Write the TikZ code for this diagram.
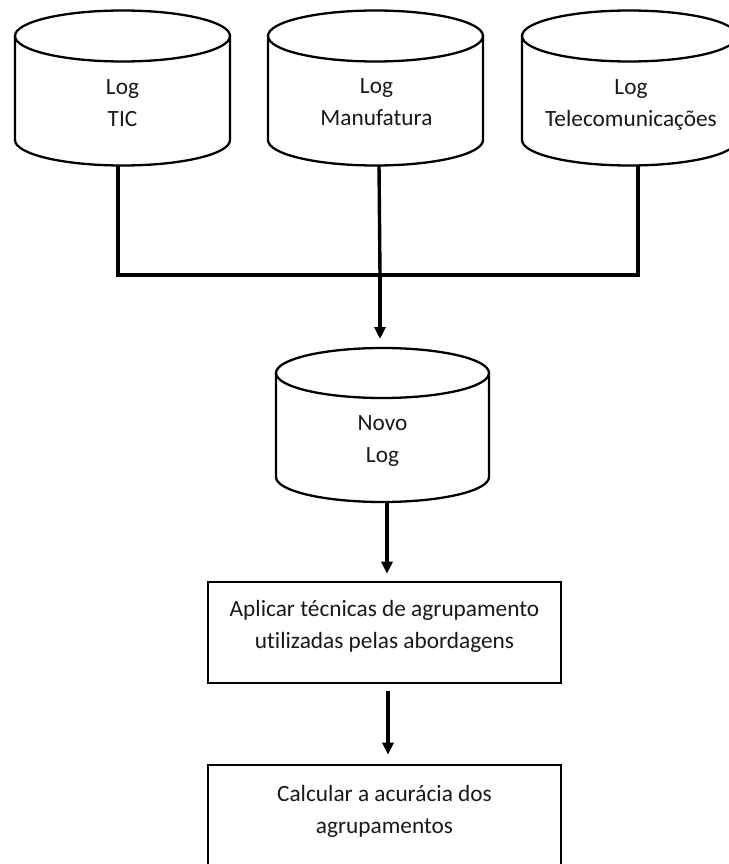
\documentclass[tikz,border=0pt]{standalone}
\usepackage{fontspec}
\setmainfont{Carlito}[Ligatures={NoCommon}]
\usetikzlibrary{arrows.meta}

% Database cylinder: centre x, top ellipse centre y, bottom ellipse centre y, half width, y radius
\newcommand{\drawdb}[5]{%
  \draw[dbline] (#1,#2) ellipse [x radius=#4, y radius=#5];
  \draw[dbline] (#1-#4,#2) -- (#1-#4,#3)
    arc[start angle=180, end angle=360, x radius=#4, y radius=#5] -- (#1+#4,#2);
}

\begin{document}
\begin{tikzpicture}[x=1pt, y=1pt,
  dbline/.style={line width=2.3pt, black},
  frame/.style={draw=none, inner sep=0pt, outer sep=0pt},
  txt/.style={align=center, inner sep=0pt, font=\fontsize{23.3}{32}\selectfont, text=black!90},
  stepbox/.style={draw, line width=2.6pt, inner sep=0pt, minimum width=353pt, minimum height=101pt},
  conn/.style={line width=3.4pt, black},
  arr/.style={conn, -{Triangle[width=11pt,length=12pt]}}]

  \useasboundingbox[fill=white] (0,0) rectangle (728,-864);

  % source logs
  \drawdb{122.5}{-36}{-140}{107.5}{25.5}
  \drawdb{375.5}{-36}{-140}{107.5}{25.5}
  \drawdb{629.5}{-36}{-140}{107.5}{25.5}
  \node[frame, minimum width=215pt, minimum height=155pt] (tic)  at (122.5,-87.5) {};
  \node[frame, minimum width=215pt, minimum height=155pt] (manu) at (375.5,-87.5) {};
  \node[frame, minimum width=215pt, minimum height=155pt] (tele) at (629.5,-87.5) {};
  \node[txt] (tic-text)  at (122.5,-103)   {Log\\TIC};
  \node[txt] (manu-text) at (376.5,-102.5) {Log\\Manufatura};
  \node[txt] (tele-text) at (631,-104.5)   {Log\\Telecomunicações};

  % merged log
  \drawdb{382.5}{-373}{-477}{106.5}{25}
  \node[frame, minimum width=213pt, minimum height=154pt] (novo) at (382.5,-425) {};
  \node[txt] (novo-text) at (382.5,-441) {Novo\\Log};

  % processing steps
  \node[stepbox] (aplicar)  at (384.5,-632.5) {};
  \node[txt] (aplicar-text) at (384.5,-626.7) {Aplicar técnicas de agrupamento\\utilizadas pelas abordagens};
  \node[stepbox] (calcular) at (384.5,-815.5) {};
  \node[txt] (calcular-text) at (384.5,-811.2) {Calcular a acurácia dos\\agrupamentos};

  % connectors
  \coordinate (join) at (380,-275);
  \draw[conn, line join=miter] ([xshift=-4.5pt]tic.south) |- (join) -| ([xshift=8.5pt]tele.south);
  \draw[conn] ([xshift=3.5pt]manu.south) -- (join);
  \draw[arr, shorten >=9pt] (join) -- (join |- novo.north);
  \draw[arr, shorten >=7pt] ([xshift=4.5pt]novo.south) -- ([xshift=4.5pt]novo.south |- aplicar.north);
  \draw[arr, shorten <=7pt, shorten >=9pt] ([xshift=3.5pt]aplicar.south) -- ([xshift=3.5pt]calcular.north);
\end{tikzpicture}
\end{document}
